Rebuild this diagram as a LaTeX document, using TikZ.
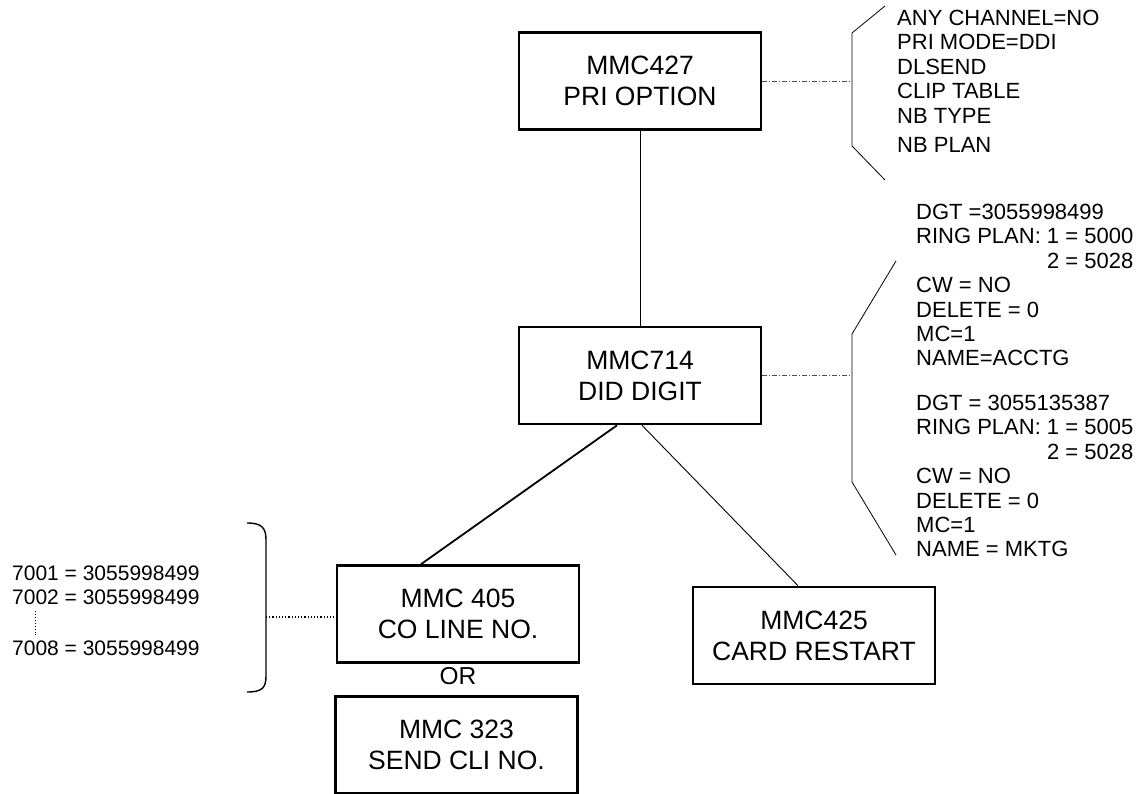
\documentclass[tikz,border=0pt]{standalone}
\usepackage{fontspec}
\setmainfont{Liberation Sans}
\begin{document}
\begin{tikzpicture}[x=1pt,y=-1pt]

\tikzstyle{mmcbox} = [draw,line width=2.6pt,minimum width=242pt,minimum height=97pt,align=center,font=\fontsize{26.5}{31}\selectfont];
\tikzstyle{infotext} = [align=left,anchor=north west,inner sep=0pt,font=\fontsize{22}{24.4}\selectfont];
\tikzstyle{dashdot} = [line width=0.8pt,black!70,dash pattern=on 5pt off 2pt on 1pt off 2pt];
\tikzstyle{thinline} = [line width=0.9pt];

\useasboundingbox (0,0) rectangle (1136,794);

\node[mmcbox] (v427) at (640,81) {MMC427\\PRI OPTION};
\node[mmcbox] (v714) at (640,375.5) {MMC714\\DID DIGIT};
\node[mmcbox] (v405) at (458,614) {MMC 405\\CO LINE NO.};
\node[mmcbox] (v425) at (814,635.5) {MMC425\\CARD RESTART};
\node[mmcbox] (v323) at (456.5,745) {MMC 323\\SEND CLI NO.};
\node[font=\fontsize{24.5}{28}\selectfont] (vor) at (458,676) {OR};

% option lists on the right
\node[infotext] (opt427) at (897,10) {ANY CHANNEL=NO\\PRI MODE=DDI\\DLSEND\\CLIP TABLE\\NB TYPE\\[5pt]NB PLAN};
\node[infotext] (dgt1) at (916,204) {DGT =3055998499\\RING PLAN: 1 = 5000\\\hphantom{RING PLAN: }2 = 5028\\CW = NO\\DELETE = 0\\MC=1\\NAME=ACCTG};
\node[infotext] (dgt2) at (916,395) {DGT = 3055135387\\RING PLAN: 1 = 5005\\\hphantom{RING PLAN: }2 = 5028\\CW = NO\\DELETE = 0\\MC=1\\NAME = MKTG};

% line numbers on the left
\node[infotext,font=\fontsize{21}{24.5}\selectfont] (v7001) at (12,565.5) {7001 = 3055998499\\7002 = 3055998499};
\node[infotext,font=\fontsize{21}{24.5}\selectfont] (v7008) at (12,640.5) {7008 = 3055998499};
\draw[dotted,line width=0.9pt] ([xshift=23pt,yshift=-6pt]v7001.south west) -- ([xshift=23pt,yshift=5pt]v7008.north west);

% brackets
\draw[line width=0.8pt] (885,6) -- (852,33) -- (852,146) -- (885,180);
\draw[line width=0.8pt] (896,261) -- (852,334) -- (852,482) -- (896,555);
\draw[line width=1.4pt] (247,523) .. controls (262,523) and (266,528) .. (266,540) -- (266,676) .. controls (266,688) and (262,692) .. (247,692);
\coordinate (rb1) at (852,81);
\coordinate (rb2) at (852,375.5);
\coordinate (lb) at (266,617);

% connectors
\draw[thinline] (v427) -- (v714);
\draw[line width=1.8pt] ([xshift=-23pt]v714.south) -- ([xshift=-37pt]v405.north);
\draw[thinline] ([xshift=2pt]v714.south) -- ([xshift=-16pt]v425.north);
\draw[dashdot] (v427.east) -- (rb1);
\draw[dashdot] (v714.east) -- (rb2);
\draw[dotted,line width=1.2pt] (lb) -- (lb -| v405.west);
\end{tikzpicture}
\end{document}
